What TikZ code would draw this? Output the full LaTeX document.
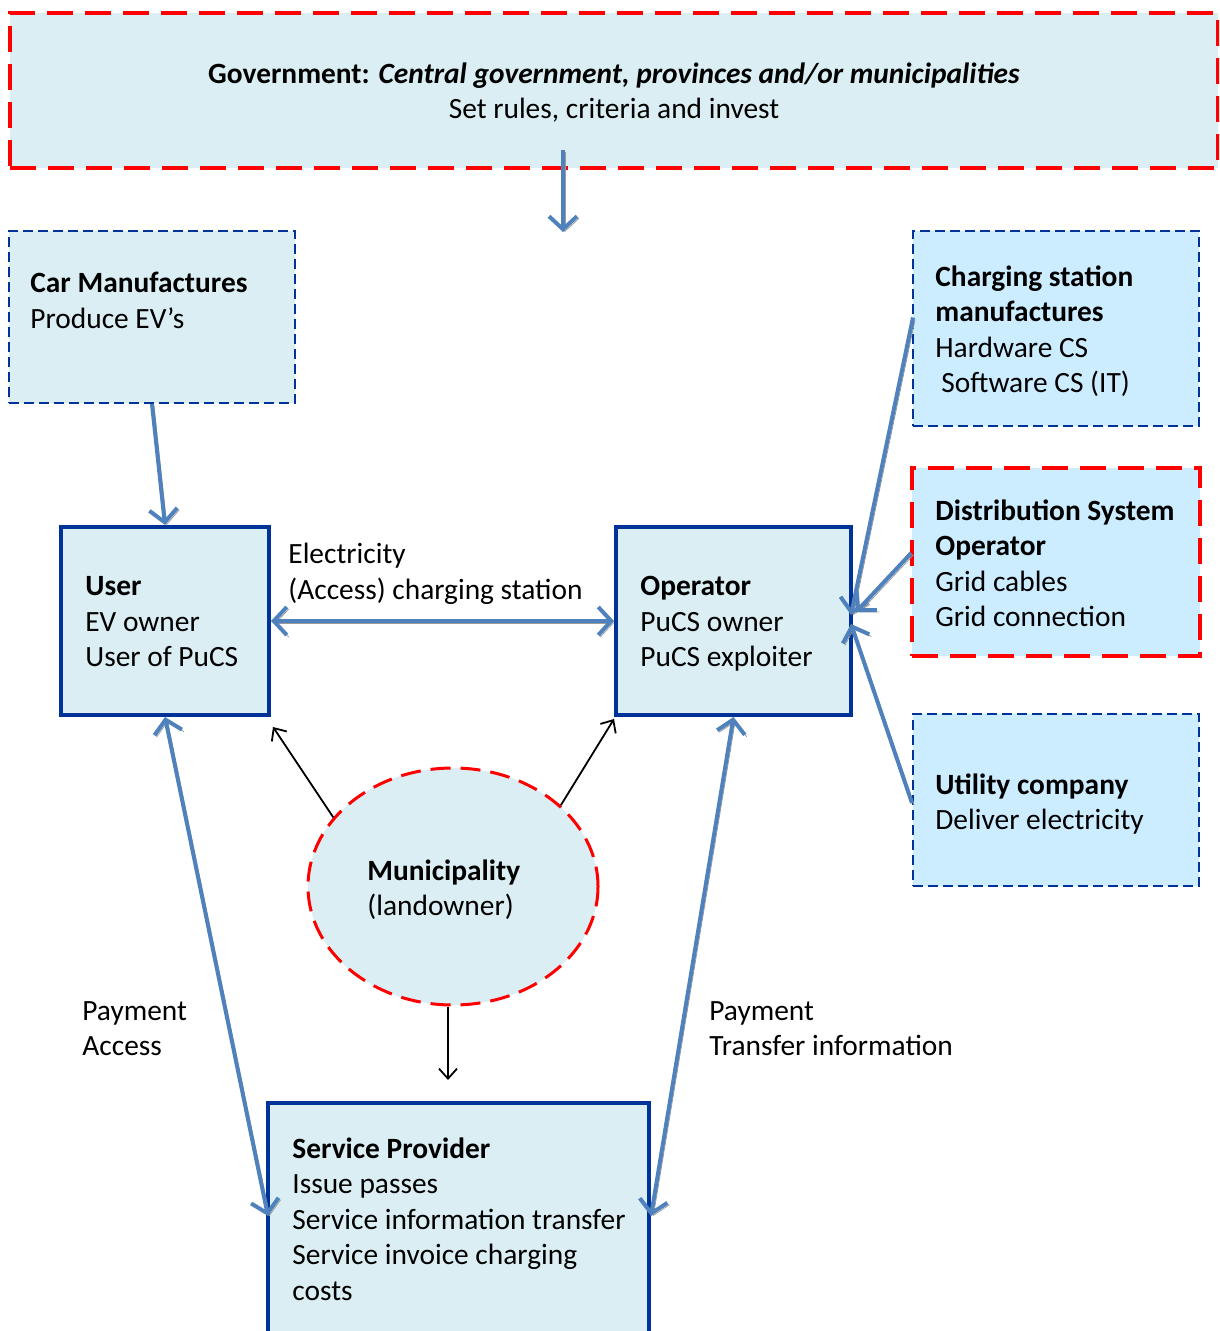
\documentclass[tikz,border=0pt]{standalone}
\usepackage{fontspec}
\setmainfont{Carlito}
\usetikzlibrary{arrows.meta,shapes.geometric,calc}
\definecolor{boxfill}{HTML}{DAEEF3}
\definecolor{brightfill}{HTML}{CCECFF}
\definecolor{navy}{HTML}{003399}
\definecolor{flowblue}{HTML}{4F81BD}
\definecolor{shade}{HTML}{9A9A9A}
\definecolor{alertred}{HTML}{FF0000}

\begin{document}
\begin{tikzpicture}[x=0.5pt,y=-0.5pt,
  solidbox/.style={draw=navy, line width=2pt, fill=boxfill, rectangle, inner sep=0pt},
  bluedash/.style={draw=navy, line width=1pt, dash pattern=on 5pt off 2.5pt, rectangle, inner sep=0pt},
  reddash/.style={draw=alertred, line width=1.8pt, dash pattern=on 13pt off 6pt, rectangle, inner sep=0pt},
  txt/.style={anchor=north west, inner sep=0pt, align=left,
    font=\fontsize{14.7}{17.8}\selectfont, execute at begin node=\strut},
  flow/.style={draw=flowblue, line width=2pt,
    preaction={draw=shade, transform canvas={shift={(2,2)}}}},
  tipb/.tip={Straight Barb[length=6.5pt,width=14pt]},
  thin/.style={draw=black, line width=0.9pt, -{Straight Barb[length=5pt,width=9pt]}}
]
\useasboundingbox (0,0) rectangle (1219,1331);
\begin{scope}
\clip (0,0) rectangle (1219,1331);

% boxes
\node[reddash, fill=boxfill, minimum width=604pt, minimum height=77.5pt] (gov) at (614,90.5) {};
\node[bluedash, fill=boxfill, minimum width=143pt, minimum height=86pt] (car) at (152,317) {};
\node[bluedash, fill=brightfill, minimum width=143pt, minimum height=97.5pt] (csm) at (1056,328.5) {};
\node[reddash, fill=brightfill, minimum width=144pt, minimum height=94pt] (dso) at (1056,562) {};
\node[bluedash, fill=brightfill, minimum width=143pt, minimum height=86pt] (util) at (1056,800) {};
\node[solidbox, minimum width=104pt, minimum height=94pt] (user) at (165,621) {};
\node[solidbox, minimum width=117.5pt, minimum height=94pt] (oper) at (733.5,621) {};
\node[ellipse, draw=alertred, line width=1.5pt, dash pattern=on 10pt off 5pt, fill=boxfill,
  minimum width=145pt, minimum height=118.5pt, inner sep=0pt] (muni) at (453,886.5) {};
\node[solidbox, minimum width=190.5pt, minimum height=121pt] (sp) at (458.5,1224) {};

% free arrow ends
\coordinate (govtip) at (563,232);
\coordinate (sptip) at (448,1080);

% blue flows
\draw[flow, -tipb] ($(gov.south)+(-51,-20)$) -- (govtip);
\draw[flow, -tipb] (car.south) -- (user.north);
\draw[flow, tipb-tipb] (user.east) -- (oper.west);
\draw[flow, -tipb] ($(csm.west)+(1,-11)$) -- ($(oper.east)+(-2,-6)$);
\draw[flow, -tipb] ($(dso.west)+(1,-9)$) -- ($(oper.east)+(3,-9)$);
\draw[flow, -tipb] ($(util.west)+(0,3)$) -- ($(oper.east)+(-2,3)$);
\draw[flow, tipb-tipb] (user.south) -- ($(sp.north west)+(2,115)$);
\draw[flow, tipb-tipb] (oper.south) -- ($(sp.north east)+(0,115)$);

% municipality links
\draw[thin] (muni.150) -- ($(user.south east)+(2,10)$);
\draw[thin] (muni.37) -- ($(oper.south west)+(0,2)$);
\draw[thin] ($(muni.south)+(-5,0)$) -- (sptip);

% texts
\node[txt, anchor=north, align=center] (govtxt) at (614,62)
  {\textbf{Government: \textit{Central government, provinces and/or municipalities}}\\Set rules, criteria and invest};
\node[txt] (cartxt) at (30,272) {\textbf{Car Manufactures}\\Produce EV’s};
\node[txt] (csmtxt) at (935,265) {\textbf{Charging station}\\\textbf{manufactures}\\Hardware CS\\\hspace{3pt}Software CS (IT)};
\node[txt] (dsotxt) at (935,499) {\textbf{Distribution System}\\\textbf{Operator}\\Grid cables\\Grid connection};
\node[txt] (utiltxt) at (935,773) {\textbf{Utility company}\\Deliver electricity};
\node[txt] (usertxt) at (85,576) {\textbf{User}\\EV owner\\User of PuCS};
\node[txt] (opertxt) at (640,576) {\textbf{Operator}\\PuCS owner\\PuCS exploiter};
\node[txt] (elec) at (288,543) {Electricity\\(Access) charging station};
\node[txt] (munitxt) at (367,859) {\textbf{Municipality}\\(landowner)};
\node[txt] (payl) at (82,1001) {Payment\\Access};
\node[txt] (payr) at (709,1001) {Payment\\Transfer information};
\node[txt] (sptxt) at (292,1137) {\textbf{Service Provider}\\Issue passes\\Service information transfer\\Service invoice charging\\costs};
\end{scope}
\end{tikzpicture}
\end{document}
